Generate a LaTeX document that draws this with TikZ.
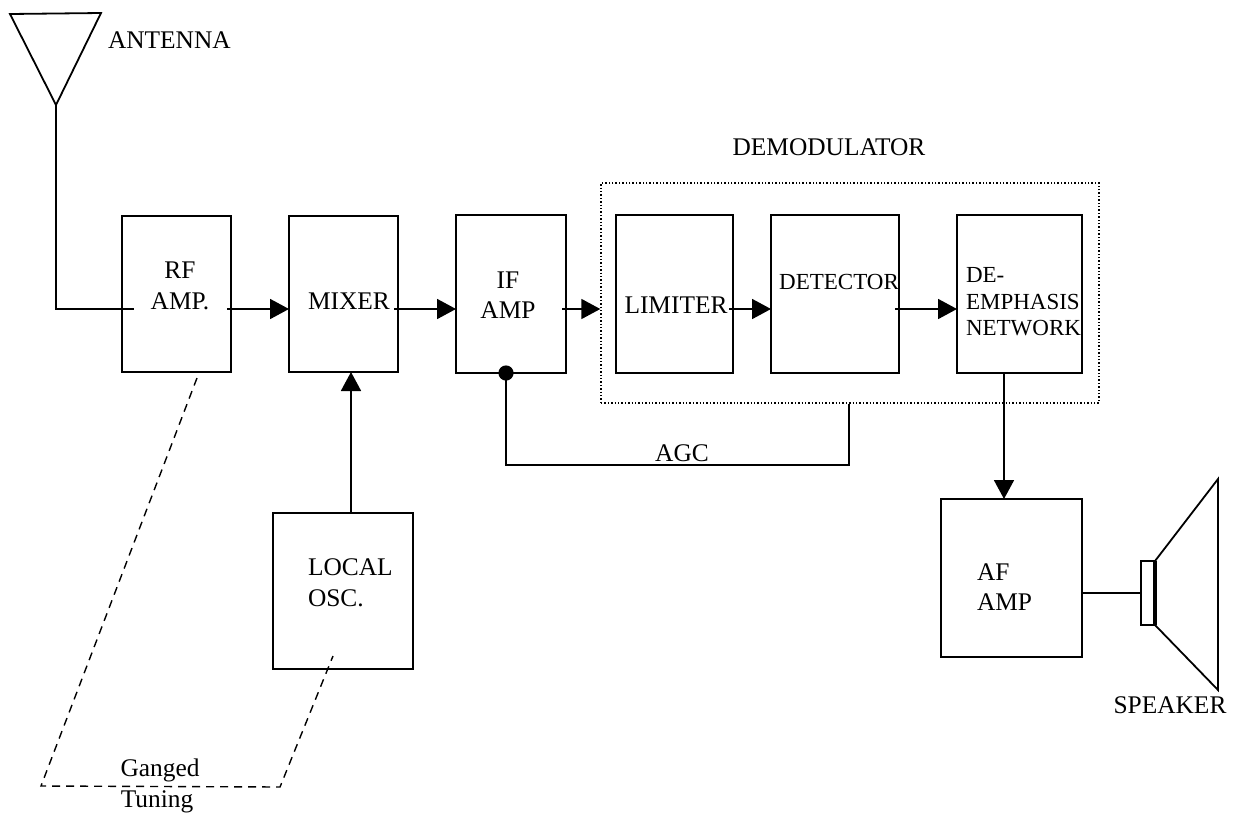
\documentclass[tikz,border=0pt]{standalone}
\usepackage{fontspec}
\setmainfont{Liberation Serif}
\usetikzlibrary{positioning, arrows.meta, calc}

\begin{document}
\begin{tikzpicture}[
    x=0.5pt, y=-0.5pt,
    every node/.style={font=\fontsize{12.7}{15.3}\selectfont, align=center},
    block/.style ={draw, line width=0.9pt, inner sep=0pt, outer sep=0pt, minimum height=79pt},
    txt/.style   ={inner sep=0pt, outer sep=0pt},
    txtsmall/.style={txt, font=\fontsize{11.5}{13.3}\selectfont},
    arrow/.style ={-{Triangle[length=9.5pt, width=10pt]}, line width=0.9pt},
    wire/.style  ={line width=0.9pt},
    gang/.style  ={line width=0.7pt, dash pattern=on 4pt off 3pt},
    node distance=29pt
]
\useasboundingbox (0,0) rectangle (1237,814);

% ========== ROW 0: Signal chain ==========
\node[block, minimum width=54.5pt, minimum height=78pt, anchor=north west] (rfamp) at (122,216) {};
\node[block, minimum width=54.5pt, minimum height=78pt, right=of rfamp] (mixer) {};
\node[block, minimum width=55pt,   right=29pt of mixer]    (ifamp)    {};
\node[block, minimum width=58.5pt, right=25pt of ifamp]    (limiter)  {};
\node[block, minimum width=64pt,   right=19pt of limiter]  (detector) {};
\node[block, minimum width=62.5pt, right=29pt of detector] (deemph)   {};

% Demodulator outline
\node[draw, densely dotted, line width=0.7pt, inner sep=0pt, minimum width=249pt, minimum height=110pt]
    (demod) at (850,293) {};
\node[txt] (demodlabel) at (829,147) {DEMODULATOR};

% Block texts
\node[txt] (rflabel)  at (180,286) {RF\\AMP.};
\node[txt] (mixlabel) at (349,301) {MIXER};
\node[txt] (iflabel)  at (508,295) {IF\\AMP};
\node[txt] (limlabel) at (676,305) {LIMITER};
\node[txtsmall] (detlabel) at (839,282) {DETECTOR};
\node[txtsmall, align=left, anchor=west] (demlabel) at (966,302) {DE-\\EMPHASIS\\NETWORK};

% ========== ROW 1: Oscillator, audio amp ==========
\node[block, minimum width=70pt, minimum height=78pt, anchor=north west] (localosc) at (273,513) {};
\node[txt, align=left, anchor=west] (osclabel) at (308,583) {LOCAL\\OSC.};
\node[block, minimum width=70.5pt, anchor=north west] (afamp) at (941,499) {};
\node[txt, align=left, anchor=west] (aflabel) at (977,587) {AF\\AMP};

% ========== Antenna ==========
\coordinate (anttip) at (56,105);
\draw[wire] (10,14) -- (101,13) -- (anttip) -- cycle;
\node[txt, anchor=west] (antlabel) at (108,40) {ANTENNA};

% ========== Speaker ==========
\node[draw, line width=0.9pt, inner sep=0pt, outer sep=0pt, minimum width=7pt, minimum height=32pt,
    anchor=north west] (coil) at (1141,561) {};
\draw[wire] (coil.north east) -- (1218,479) -- (1218,690) -- (coil.south east);
\draw[line width=1.6pt] (coil.north east) -- (coil.south east);
\node[txt] (spklabel) at (1170,705) {SPEAKER};

% ========== ARROWS ==========
\coordinate (sigline) at (0,309);
\draw[wire] (anttip) |- ([xshift=6pt]rfamp.west |- sigline);
\draw[arrow] ([xshift=-2pt]rfamp.east |- sigline) -- (mixer.west |- sigline);
\draw[arrow] ([xshift=-2pt]mixer.east |- sigline) -- (ifamp.west |- sigline);
\draw[arrow] ([xshift=-2pt]ifamp.east |- sigline) -- (demod.west |- sigline);
\draw[arrow] ([xshift=-2pt]limiter.east |- sigline) -- (detector.west |- sigline);
\draw[arrow] ([xshift=-2pt]detector.east |- sigline) -- (deemph.west |- sigline);

% Local oscillator -> Mixer
\coordinate (oscin) at ([xshift=3.75pt]mixer.south);
\draw[arrow] (oscin |- localosc.north) -- (oscin);

% De-emphasis -> AF amp -> Speaker
\coordinate (afin) at ([xshift=-3.75pt]afamp.north);
\draw[arrow] (afin |- deemph.south) -- (afin);
\draw[wire] (afamp.east |- coil.west) -- (coil.west);

% AGC loop
\fill ($(ifamp.south)+(-2.5pt,0)$) circle (3.8pt) coordinate (agcdot);
\draw[wire] (agcdot) |- (849,465) coordinate (agcend) -- (agcend |- demod.south);
\node[txt] (agclabel) at (682,453) {AGC};

% Ganged tuning
\draw[gang] (197,378) -- (41,786) -- (280,787) -- (333,656);
\node[txt] (ganglabel) at (160,770) {Ganged};
\node[txt] (tunelabel) at (157,802) {Tuning};

\end{tikzpicture}
\end{document}
